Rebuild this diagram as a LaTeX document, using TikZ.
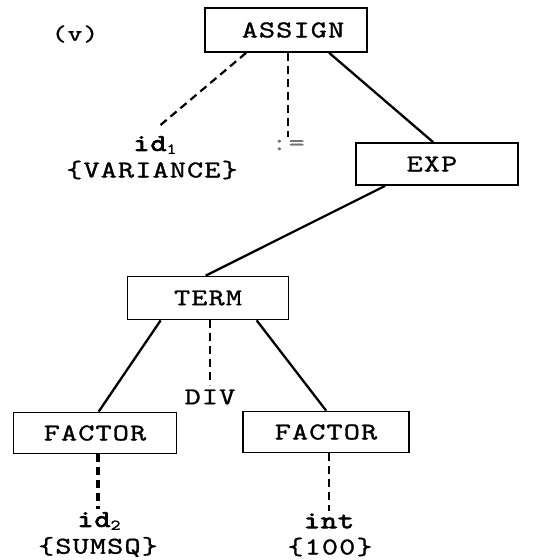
\documentclass[tikz,border=0pt]{standalone}
\usepackage{fontspec}
\usetikzlibrary{calc}
\newfontfamily\cour{Latin Modern Mono}[FakeStretch=1.3, LetterSpace=5, FakeBold=1.4]
\newfontfamily\courbf{Latin Modern Mono}[FakeStretch=1.3, LetterSpace=4, FakeBold=3.5]
\newcommand{\mysub}[1]{\raisebox{-3pt}{\fontsize{15}{15}\selectfont #1}}
\tikzset{
  box/.style={draw, line width=1.7pt, inner sep=0pt, minimum height=42pt, minimum width=162pt, fill=white},
  leaf/.style={inner sep=0pt, align=center},
  solidline/.style={line width=2.3pt},
  dashline/.style={line width=2.2pt, dash pattern=on 8pt off 5pt},
  thinDash/.style={line width=1.4pt, dash pattern=on 8pt off 5pt},
  thickDash/.style={line width=3.2pt, dash pattern=on 8pt off 5pt},
}
\begin{document}
\begin{tikzpicture}[x=1pt,y=-1pt, font=\cour\fontsize{24}{25}\selectfont]
\useasboundingbox (0,0) rectangle (544,560);
\fill[white] (0,0) rectangle (544,560);

\node[font=\cour\fontsize{22}{22}\selectfont] (lab) at (75,34) {(v)};

\node[box, minimum height=44pt] (assign) at (286,30) {\hspace*{14pt}ASSIGN};
\node[box] (exp) at (437,164) {EXP\hspace*{10pt}};
\node[box, minimum height=43pt, minimum width=161pt] (term) at (208,298) {TERM};
\node[box, minimum height=41pt, minimum width=163pt] (lfac) at (95,433) {FACTOR};
\node[box, minimum height=41pt, minimum width=166pt] (rfac) at (326,432) {FACTOR};

\node[leaf] (id1) at (155,145) {{\courbf id}\mysub{1}};
\node[leaf] (id1v) at (152,170) {\{VARIANCE\}};
\node[leaf, text=black!55] (asg) at (288,145) {:=};
\node[leaf] (div) at (210,397) {DIV};
\node[leaf] (id2) at (99,521) {{\courbf id}\mysub{2}};
\node[leaf] (id2v) at (98,547) {\{SUMSQ\}};
\node[leaf] (int) at (329,521) {{\courbf int}};
\node[leaf] (intv) at (330,547) {\{100\}};

\draw[dashline] ($(assign.south west)+(42,0)$) -- ($(id1.north)+(2,-8)$);
\draw[thinDash] (assign.south -| asg) -- ($(asg.north)+(0,-3)$);
\draw[solidline] ($(assign.south west)+(125,0)$) -- ($(exp.north west)+(78,0)$);
\draw[solidline] ($(exp.south west)+(30,0)$) -- ($(term.north west)+(79,0)$);
\draw[solidline] ($(term.south west)+(34,0)$) -- ($(lfac.north west)+(86,0)$);
\draw[thinDash] (term.south -| div) -- ($(div.north)+(0,-4)$);
\draw[solidline] ($(term.south west)+(130,0)$) -- ($(rfac.north west)+(84,0)$);
\draw[thickDash] (lfac.south -| id2v) -- ($(id2.north)+(-1,-3)$);
\draw[thinDash] (rfac.south -| int) -- ($(int.north)+(0,-3)$);
\end{tikzpicture}
\end{document}
